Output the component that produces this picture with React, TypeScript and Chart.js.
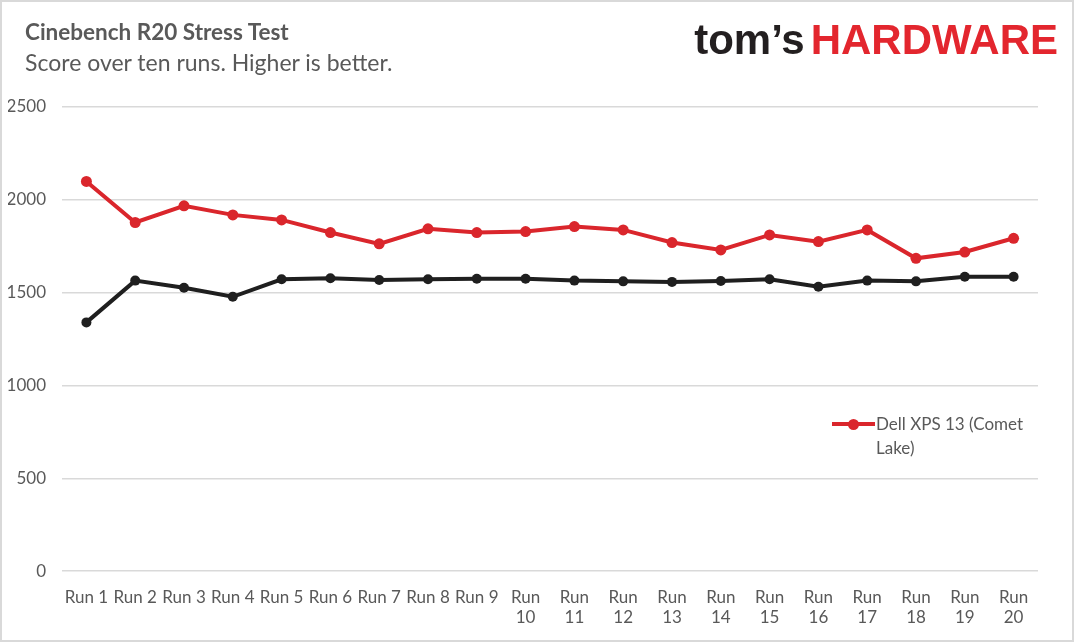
import { useEffect, useRef } from "react";
import Chart from "chart.js/auto";

const runLabels: (string | string[])[] = [
  "Run 1", "Run 2", "Run 3", "Run 4", "Run 5", "Run 6", "Run 7", "Run 8", "Run 9",
  ["Run", "10"], ["Run", "11"], ["Run", "12"], ["Run", "13"], ["Run", "14"],
  ["Run", "15"], ["Run", "16"], ["Run", "17"], ["Run", "18"], ["Run", "19"], ["Run", "20"],
];

// red series (the only one in the legend)
const cometLake = [
  2099, 1878, 1968, 1919, 1892, 1824, 1763, 1844, 1824, 1829,
  1856, 1838, 1770, 1730, 1811, 1775, 1838, 1685, 1719, 1793,
];

// black series, no legend entry in the original
const otherSystem = [
  1340, 1565, 1527, 1478, 1572, 1578, 1568, 1572, 1575, 1575,
  1565, 1561, 1558, 1563, 1572, 1532, 1565, 1561, 1586, 1586,
];

const yMin = 0;
const yMax = 2500;
const yStep = 500;

const RED = "#da262c";
const BLACK = "#1f1f1f";
const TEXT = "#595959";
const FONT = "Lato, 'Open Sans', sans-serif";

export default function App() {
  const chartRef = useRef<HTMLCanvasElement>(null);
  const chartInstanceRef = useRef<Chart | null>(null);

  useEffect(() => {
    if (!chartRef.current) return;
    if (chartInstanceRef.current) chartInstanceRef.current.destroy();

    const ctx = chartRef.current.getContext("2d");
    if (!ctx) return;

    chartInstanceRef.current = new Chart(ctx, {
      type: "line",
      data: {
        labels: runLabels,
        datasets: [
          {
            label: "Dell XPS 13 (Comet Lake)",
            data: cometLake,
            borderColor: RED,
            backgroundColor: RED,
            borderWidth: 4,
            pointRadius: 5.5,
            pointHoverRadius: 5.5,
            pointBorderWidth: 0,
            tension: 0,
          },
          {
            label: "Other",
            data: otherSystem,
            borderColor: BLACK,
            backgroundColor: BLACK,
            borderWidth: 4,
            pointRadius: 5,
            pointHoverRadius: 5,
            pointBorderWidth: 0,
            tension: 0,
          },
        ],
      },
      options: {
        animation: false,
        responsive: true,
        maintainAspectRatio: false,
        layout: { padding: { top: 105, left: 6, right: 34, bottom: 4 } },
        plugins: {
          legend: { display: false },
          tooltip: { enabled: false },
        },
        scales: {
          x: {
            offset: true,
            grid: { display: false },
            border: { display: false },
            ticks: {
              color: TEXT,
              font: { family: FONT, size: 17 },
              maxRotation: 0,
              autoSkip: false,
              padding: 8,
            },
          },
          y: {
            min: yMin,
            max: yMax,
            border: { display: false },
            grid: { color: "#d9d9d9", lineWidth: 1.5, drawTicks: false },
            afterFit: (scale) => {
              scale.width = 54;
            },
            ticks: {
              stepSize: yStep,
              color: TEXT,
              font: { family: FONT, size: 17 },
              padding: 16,
              callback: (v) => String(v),
            },
          },
        },
      },
    });

    return () => {
      if (chartInstanceRef.current) {
        chartInstanceRef.current.destroy();
        chartInstanceRef.current = null;
      }
    };
  }, []);

  return (
    <div
      style={{
        position: "fixed",
        left: 0,
        top: 0,
        width: 1074,
        height: 642,
        boxSizing: "border-box",
        border: "2px solid #d9d9d9",
        background: "#fff",
        fontFamily: FONT,
        overflow: "hidden",
      }}
    >
      <div style={{ position: "absolute", left: 0, top: 0, width: 1070, height: 638 }}>
        <canvas ref={chartRef} />
      </div>
      <div style={{ position: "absolute", left: 23, top: 16, color: TEXT, fontSize: 22.5, fontWeight: 700 }}>
        Cinebench R20 Stress Test
      </div>
      <div style={{ position: "absolute", left: 23, top: 46, color: TEXT, fontSize: 23 }}>
        Score over ten runs. Higher is better.
      </div>
      <div
        style={{
          position: "absolute",
          right: 14,
          top: 14,
          fontFamily: "'Liberation Sans', Arial, sans-serif",
          fontWeight: 700,
          fontSize: 42,
          letterSpacing: 0,
          whiteSpace: "nowrap",
        }}
      >
        <span style={{ color: "#231f20" }}>tom’s</span>
        <span style={{ color: "#e3262e", marginLeft: 6 }}>HARDWARE</span>
      </div>
      <div
        style={{
          position: "absolute",
          left: 828,
          top: 410,
          display: "flex",
          alignItems: "flex-start",
          color: TEXT,
          fontSize: 17,
          lineHeight: "24px",
        }}
      >
        <div style={{ position: "relative", width: 46, height: 24, flex: "none" }}>
          <div style={{ position: "absolute", left: 2, top: 10, width: 43, height: 4, background: RED }} />
          <div
            style={{
              position: "absolute",
              left: 18,
              top: 6.5,
              width: 11,
              height: 11,
              borderRadius: "50%",
              background: RED,
            }}
          />
        </div>
        <div style={{ width: 160 }}>Dell XPS 13 (Comet Lake)</div>
      </div>
    </div>
  );
}
